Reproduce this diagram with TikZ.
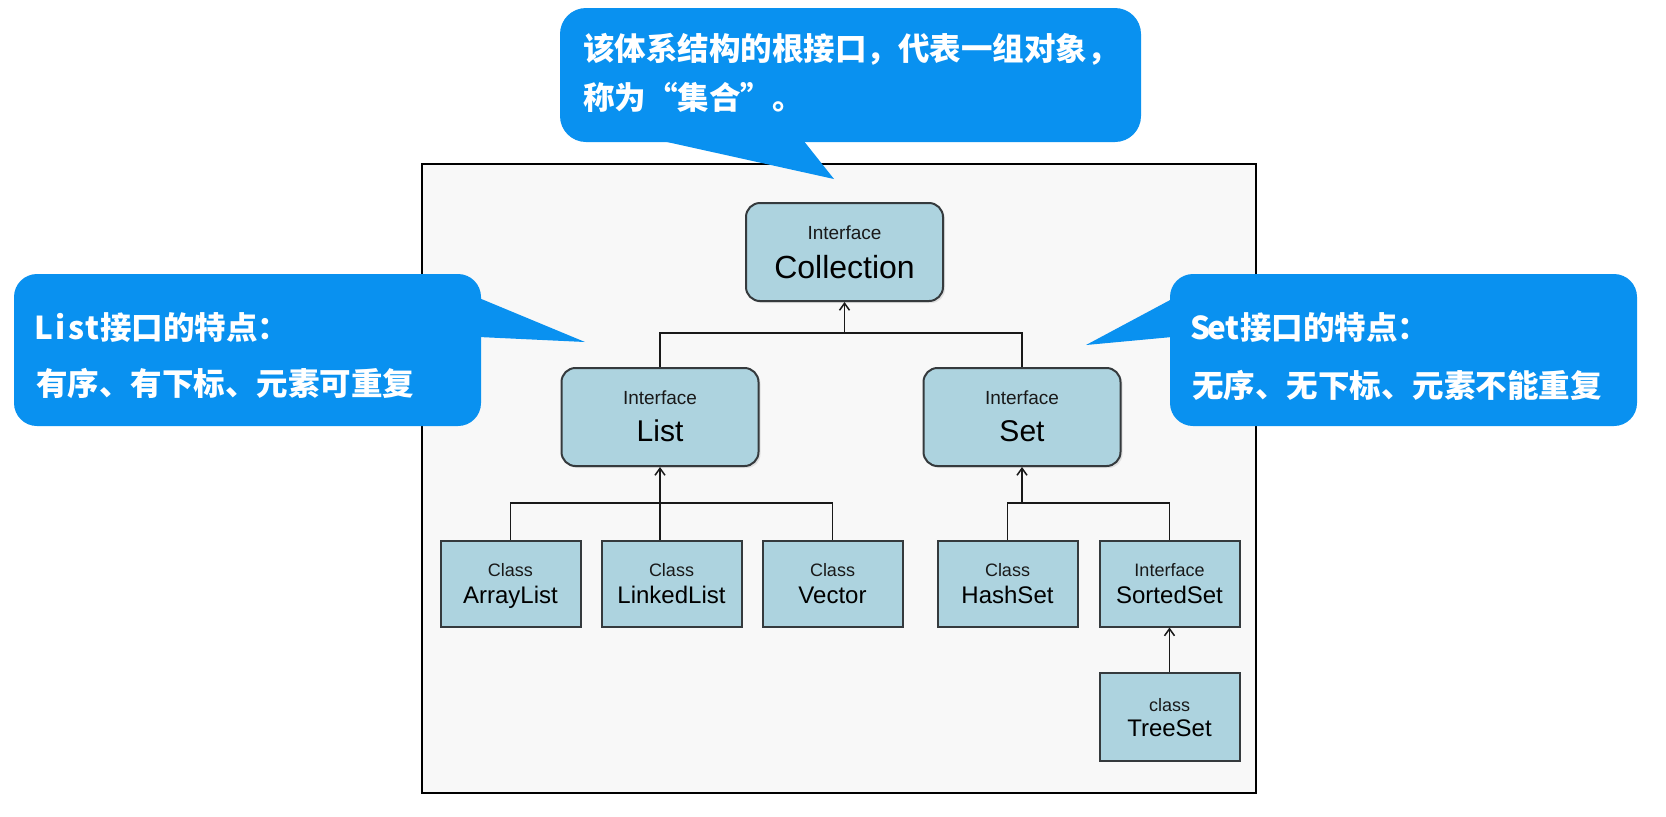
\documentclass[tikz,border=0pt]{standalone}
\usepackage{fontspec}
\setmainfont{Liberation Sans}
\newfontfamily\cjk{Noto Sans CJK SC}
\usetikzlibrary{arrows.meta,shadows}
\definecolor{callblue}{HTML}{0991F0}
\definecolor{boxblue}{HTML}{ADD3DF}
\definecolor{boxline}{HTML}{353A3D}
\definecolor{framebg}{HTML}{F8F8F8}
\newcommand{\hwc}[1]{\makebox[8pt][c]{#1}}
\begin{document}
\begin{tikzpicture}[x=0.5pt,y=-0.5pt,
  ibox/.style={draw=boxline, fill=boxblue, line width=1pt, rounded corners=7pt,
    minimum width=98.5pt, minimum height=49pt, inner sep=0pt,
    drop shadow={opacity=0.2, shadow xshift=1pt, shadow yshift=-1pt}},
  cbox/.style={draw=boxline, fill=boxblue, line width=1pt,
    minimum width=70pt, minimum height=43pt, inner sep=0pt,
    drop shadow={opacity=0.25, shadow xshift=0.6pt, shadow yshift=-0.9pt}},
  smalllbl/.style={font=\fontsize{9.5}{11}\selectfont, text=black!90, inner sep=0pt, anchor=base},
  biglbl/.style={font=\fontsize{16}{19}\selectfont, text=black, inner sep=0pt, anchor=base},
  midlbl/.style={font=\fontsize{15}{18}\selectfont, text=black, inner sep=0pt, anchor=base},
  clslbl/.style={font=\fontsize{9}{11}\selectfont, text=black!90, inner sep=0pt, anchor=base},
  namelbl/.style={font=\fontsize{12}{14}\selectfont, text=black, inner sep=0pt, anchor=base},
  calltext/.style={font=\cjk\bfseries\fontsize{15.75}{18}\selectfont, text=white, inner sep=0pt, anchor=base west},
  conn/.style={draw=black!90, line width=0.75pt},
  arr/.style={conn, -{Straight Barb[length=3.5pt,width=5pt,line width=0.75pt]}}
]
\useasboundingbox (0,0) rectangle (1666,816);
\fill[white] (0,0) rectangle (1666,816);

% frame
\draw[line width=1pt, fill=framebg] (422,164) rectangle (1256,793);

% boxes
\node[ibox] (col) at (844.5,252) {};
\node[ibox] (list) at (660,417) {};
\node[ibox] (set) at (1022,417) {};
\node[cbox] (al) at (510.5,583.5) {};
\node[cbox] (ll) at (671.5,583.5) {};
\node[cbox] (vec) at (832.5,583.5) {};
\node[cbox] (hs) at (1007.5,583.5) {};
\node[cbox] (ss) at (1169.5,583.5) {};
\node[cbox, minimum height=44pt] (ts) at (1169.5,716.5) {};

% labels
\node[smalllbl] (colA) at (844.5,239) {Interface};
\node[biglbl] (colB) at (844.5,278.5) {Collection};
\node[smalllbl] (listA) at (660,404) {Interface};
\node[midlbl] (listB) at (660,441) {List};
\node[smalllbl] (setA) at (1022,404) {Interface};
\node[midlbl] (setB) at (1022,441) {Set};
\node[clslbl] (alA) at (510.5,576.5) {Class};
\node[namelbl] (alB) at (510.5,603.5) {ArrayList};
\node[clslbl] (llA) at (671.5,576.5) {Class};
\node[namelbl] (llB) at (671.5,603.5) {LinkedList};
\node[clslbl] (vecA) at (832.5,576.5) {Class};
\node[namelbl] (vecB) at (832.5,603.5) {Vector};
\node[clslbl] (hsA) at (1007.5,576.5) {Class};
\node[namelbl] (hsB) at (1007.5,603.5) {HashSet};
\node[clslbl] (ssA) at (1169.5,576.5) {Interface};
\node[namelbl] (ssB) at (1169.5,603.5) {SortedSet};
\node[clslbl] (tsA) at (1169.5,711.5) {class};
\node[namelbl] (tsB) at (1169.5,736.5) {TreeSet};

% connectors
\coordinate (cbar) at (0,333);
\coordinate (lbar) at (0,503);
\draw[conn] (list.north) |- (set.north |- cbar) -- (set.north);
\draw[arr] (col.south |- cbar) -- (col.south);
\draw[conn] (al.north) |- (vec.north |- lbar) -- (vec.north);
\draw[arr] (list.south |- ll.north) -- (list.south);
\draw[conn] (hs.north) |- (ss.north |- lbar) -- (ss.north);
\draw[arr] (set.south |- lbar) -- (set.south);
\draw[arr] (ts.north) -- (ss.south);

% callouts
\fill[callblue, rounded corners=13pt] (560,8) rectangle (1141,142);
\fill[callblue] (658,140) -- (834,179) -- (803,140) -- cycle;
\node[calltext] (topA) at (583,60) {该体系结构的根接口，代表一组对象，};
\node[calltext] (topB) at (583,109) {称为“集合”。};

\fill[callblue, rounded corners=11.5pt] (14,274) rectangle (481,426);
\fill[callblue] (479,298) -- (585,342) -- (479,337) -- cycle;
\node[calltext] (leftA) at (36,339) {\hwc{L}\hwc{i}\hwc{s}\hwc{t}接口的特点：};
\node[calltext] (leftB) at (36,395) {有序、有下标、元素可重复};

\fill[callblue, rounded corners=11.5pt] (1170,274) rectangle (1637,426);
\fill[callblue] (1172,299) -- (1086,345) -- (1172,337) -- cycle;
\node[calltext] (rightA) at (1192,339) {\hwc{S}\hwc{e}\hwc{t}接口的特点：};
\node[calltext] (rightB) at (1192,397) {无序、无下标、元素不能重复};
\end{tikzpicture}
\end{document}
